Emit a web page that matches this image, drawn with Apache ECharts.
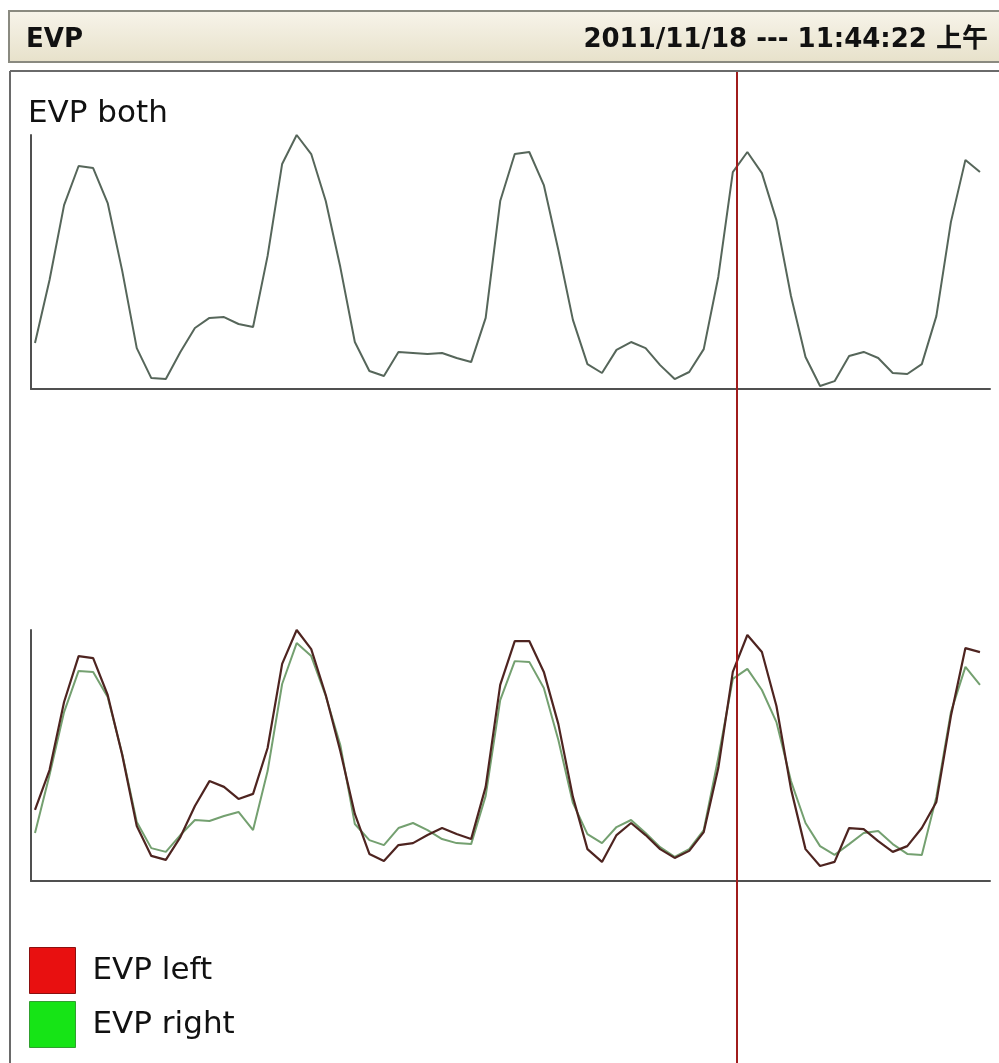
<!DOCTYPE html>
<html>
<head>
<meta charset="utf-8">
<title>EVP</title>
<script src="https://cdn.jsdelivr.net/npm/echarts@6/dist/echarts.min.js"></script>
<style>
  html, body { margin: 0; padding: 0; background: #fff; }
  #chart { width: 999px; height: 1063px; }
</style>
</head>
<body>
<div id="chart"></div>
<script>
// sample index along the recording, values in % of panel height
var evpBoth = [18.1, 42.9, 72.4, 87.8, 87.0, 73.2, 46.5, 16.1, 4.3, 3.9,
  14.6, 24.0, 28.0, 28.3, 25.6, 24.4, 52.4, 88.6, 100, 92.5,
  74.0, 48.0, 18.5, 7.1, 5.1, 14.6, 14.2, 13.8, 14.2, 12.2,
  10.6, 28.0, 74.0, 92.5, 93.3, 80.3, 54.7, 27.2, 9.8, 6.3,
  15.4, 18.5, 16.1, 9.4, 3.9, 6.7, 15.7, 44.1, 85.4, 93.3,
  85.0, 66.5, 36.6, 12.6, 1.2, 3.1, 13.0, 14.6, 12.2, 6.3,
  5.9, 9.8, 28.7, 65.7, 90.2, 85.4];

var evpLeft = [28.3, 44.2, 71.3, 89.6, 88.8, 74.1, 50.2, 21.9, 10.0, 8.4,
  17.5, 29.9, 39.8, 37.5, 32.7, 34.7, 53.0, 86.5, 100, 92.4,
  74.1, 51.8, 26.7, 10.8, 8.0, 14.3, 15.1, 18.3, 21.1, 18.7,
  16.7, 37.5, 78.1, 95.6, 95.6, 83.3, 62.5, 33.5, 12.7, 7.6,
  18.3, 23.1, 18.3, 12.7, 9.2, 12.0, 19.5, 45.0, 83.3, 98.0,
  91.2, 69.7, 36.7, 12.7, 6.0, 7.6, 21.1, 20.7, 15.9, 11.6,
  13.9, 21.1, 31.5, 65.7, 92.8, 91.2];

var evpRight = [19.1, 42.2, 67.3, 83.7, 83.3, 73.3, 50.6, 23.5, 13.1, 11.6,
  18.3, 24.3, 23.9, 25.9, 27.5, 20.3, 43.8, 78.5, 94.8, 89.6,
  73.7, 54.2, 22.7, 16.3, 14.3, 21.1, 23.1, 20.3, 16.7, 15.1,
  14.7, 33.9, 72.1, 87.6, 87.3, 76.9, 56.2, 31.1, 18.7, 15.1,
  21.5, 24.3, 19.1, 13.5, 9.6, 12.7, 20.3, 49.0, 80.5, 84.5,
  76.1, 63.3, 39.8, 23.1, 13.9, 10.4, 14.7, 19.1, 19.9, 14.7,
  10.8, 10.4, 33.5, 67.3, 85.3, 78.1];

var headTitle = 'EVP';
var headTime = '2011/11/18 --- 11:44:22 上午';

function pairs(arr) {
  return arr.map(function (v, i) { return [i, v]; });
}

var myChart = echarts.init(document.getElementById('chart'));

function axLine() {
  return { show: true, onZero: false, lineStyle: { color: '#505050', width: 2 } };
}
function xAx(idx) {
  return {
    type: 'value', gridIndex: idx, min: -0.275, max: 65.69,
    axisLine: axLine(), axisTick: { show: false }, axisLabel: { show: false },
    splitLine: { show: false }
  };
}
function yAx(idx) {
  return {
    type: 'value', gridIndex: idx, min: 0, max: 100,
    axisLine: axLine(), axisTick: { show: false }, axisLabel: { show: false },
    splitLine: { show: false }
  };
}

var option = {
  animation: false,
  backgroundColor: '#fff',
  grid: [
    { left: 31, top: 135, width: 959, height: 254 },
    { left: 31, top: 630, width: 959, height: 251 }
  ],
  xAxis: [xAx(0), xAx(1)],
  yAxis: [yAx(0), yAx(1)],
  legend: {
    orient: 'vertical',
    left: 24,
    top: 942,
    icon: 'rect',
    itemWidth: 46,
    itemHeight: 46,
    itemGap: 7,
    textStyle: { fontFamily: 'DejaVu Sans', fontSize: 31, color: '#111', padding: [0, 0, 0, 12] },
    data: [
      { name: 'EVP left', itemStyle: { color: '#e81010', borderColor: '#8a1010', borderWidth: 1 } },
      { name: 'EVP right', itemStyle: { color: '#16e416', borderColor: '#30a030', borderWidth: 1 } }
    ]
  },
  series: [
    {
      name: 'EVP both', type: 'line', xAxisIndex: 0, yAxisIndex: 0,
      data: pairs(evpBoth), showSymbol: false,
      lineStyle: { color: '#56665a', width: 2 }, itemStyle: { color: '#56665a' }
    },
    {
      name: 'EVP right', type: 'line', xAxisIndex: 1, yAxisIndex: 1,
      data: pairs(evpRight), showSymbol: false,
      lineStyle: { color: '#74a070', width: 2 }, itemStyle: { color: '#16e416' }
    },
    {
      name: 'EVP left', type: 'line', xAxisIndex: 1, yAxisIndex: 1,
      data: pairs(evpLeft), showSymbol: false,
      lineStyle: { color: '#4e2420', width: 2.2 }, itemStyle: { color: '#e81010' }
    }
  ],
  graphic: [
    // header bar
    {
      type: 'rect', left: 8, top: 10, z: 10,
      shape: { width: 991, height: 51 },
      style: {
        fill: new echarts.graphic.LinearGradient(0, 0, 0, 1, [
          { offset: 0, color: '#f7f4ea' }, { offset: 1, color: '#e7e1ca' }
        ]),
        stroke: '#8a8a80', lineWidth: 2
      }
    },
    {
      type: 'text', left: 26, top: 27, z: 11,
      style: { text: headTitle, font: 'bold 26px "DejaVu Sans"', fill: '#111' }
    },
    {
      type: 'text', right: 11, top: 27, z: 11,
      style: { text: headTime, font: 'bold 26px "DejaVu Sans", "Noto Sans CJK SC"', fill: '#111' }
    },
    // panel border
    {
      type: 'line', z: 5,
      shape: { x1: 10, y1: 71, x2: 999, y2: 71 },
      style: { stroke: '#6a6a6a', lineWidth: 2 }
    },
    {
      type: 'line', z: 5,
      shape: { x1: 10, y1: 71, x2: 10, y2: 1063 },
      style: { stroke: '#6a6a6a', lineWidth: 2 }
    },
    {
      type: 'text', left: 28, top: 98, z: 5,
      style: { text: 'EVP both', font: '31px "DejaVu Sans"', fill: '#111' }
    },
    // cursor
    {
      type: 'line', z: 20,
      shape: { x1: 737, y1: 72, x2: 737, y2: 1063 },
      style: { stroke: '#a01c1c', lineWidth: 2 }
    }
  ]
};

myChart.setOption(option);
</script>
</body>
</html>
